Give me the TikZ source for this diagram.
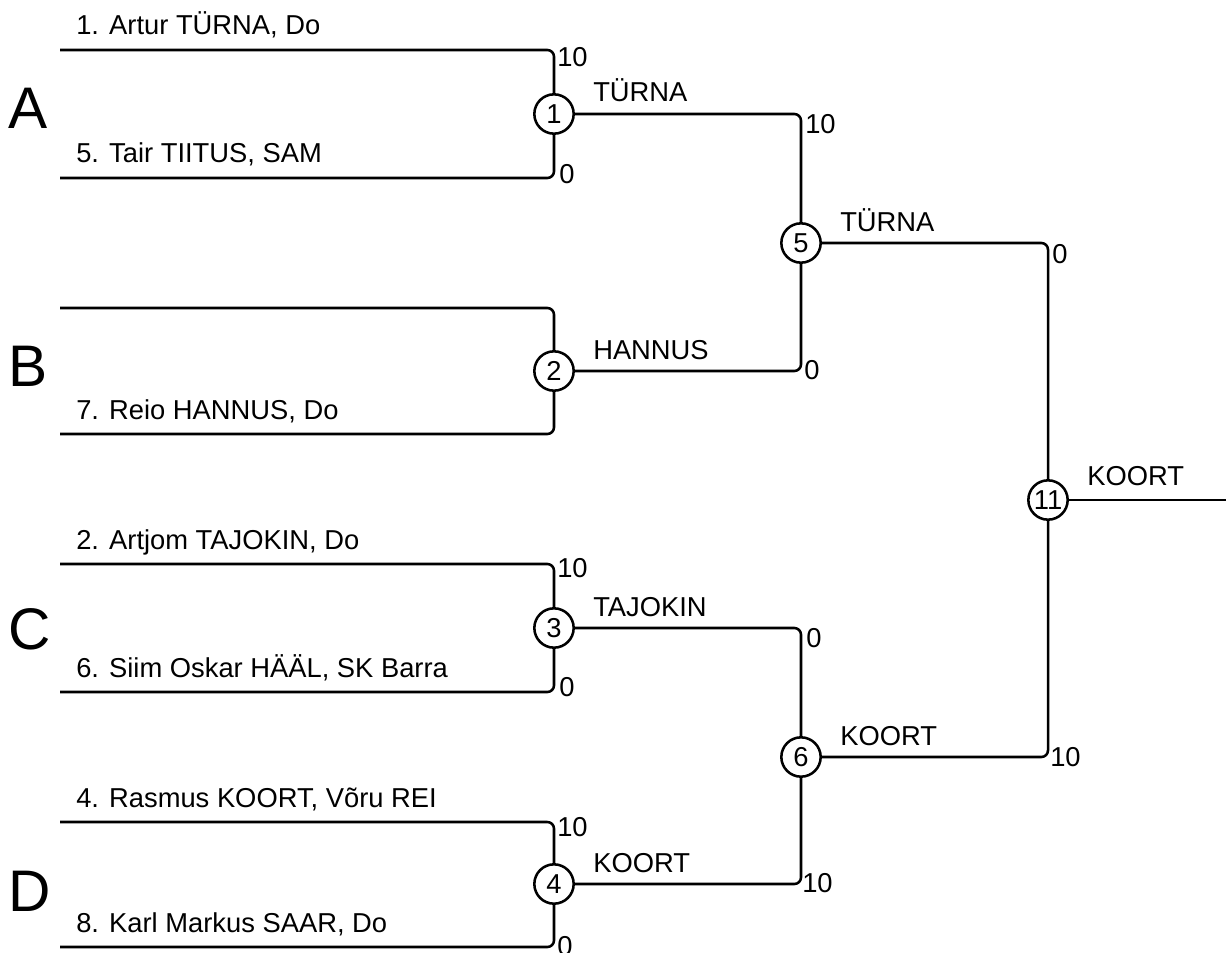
\documentclass[tikz,border=0pt]{standalone}
\usepackage{fontspec}
\setmainfont{Liberation Sans}
\usetikzlibrary{positioning,calc}

\begin{document}
\begin{tikzpicture}[
  x=0.75pt, y=-0.75pt,
  font=\fontsize{20.5}{24}\selectfont,
  wire/.style={line width=1.9pt, rounded corners=5pt},
  match/.style={circle, draw, line width=1.9pt, minimum size=29.5pt, inner sep=0pt},
  player/.style={anchor=base west, inner sep=0pt},
  winner/.style={anchor=base west, inner sep=0pt},
  score/.style={anchor=west, inner sep=0pt},
  group/.style={anchor=west, inner sep=0pt, font=\fontsize{44}{50}\selectfont}
]
\useasboundingbox (0,0) rectangle (1226,952);

% Match circles
\node[match] (m1) at (554,114) {1};
\node[match] (m2) at (554,371) {2};
\node[match] (m3) at (554,628) {3};
\node[match] (m4) at (554,884) {4};
\node[match] (m5) at (801,243) {5};
\node[match] (m6) at (801,757) {6};
\node[match] (m11) at (1048,500) {11};

% Free ends of the first-round lines
\coordinate (a1) at (60,50);
\coordinate (b1) at (60,178);
\coordinate (a2) at (60,308);
\coordinate (b2) at (60,434);
\coordinate (a3) at (60,564);
\coordinate (b3) at (60,692);
\coordinate (a4) at (60,822);
\coordinate (b4) at (60,947);
\coordinate (fin) at (1226,500);

% Bracket lines
\draw[wire] (a1) -| (m1);
\draw[wire] (b1) -| (m1);
\draw[wire] (a2) -| (m2);
\draw[wire] (b2) -| (m2);
\draw[wire] (a3) -| (m3);
\draw[wire] (b3) -| (m3);
\draw[wire] (a4) -| (m4);
\draw[wire] (b4) -| (m4);
\draw[wire] (m1) -| (m5);
\draw[wire] (m2) -| (m5);
\draw[wire] (m3) -| (m6);
\draw[wire] (m4) -| (m6);
\draw[wire] (m5) -| (m11);
\draw[wire] (m6) -| (m11);
\draw[wire] (m11) -- (fin);

% Group letters
\node[group] (gA) at (8,108) {A};
\node[group] (gB) at (8,366) {B};
\node[group] (gC) at (8,629) {C};
\node[group] (gD) at (8,891) {D};

% Players
\node[player] (p1) at (76,35) {1. Artur TÜRNA, Do};
\node[player] (p5) at (76,163) {5. Tair TIITUS, SAM};
\node[player] (p7) at (76,419) {7. Reio HANNUS, Do};
\node[player] (p2) at (76,549) {2. Artjom TAJOKIN, Do};
\node[player] (p6) at (76,677) {6. Siim Oskar HÄÄL, SK Barra};
\node[player] (p4) at (76,807) {4. Rasmus KOORT, Võru REI};
\node[player] (p8) at (76,932) {8. Karl Markus SAAR, Do};

% Winners
\node[winner] (w1) at (593,102) {TÜRNA};
\node[winner] (w2) at (593,359) {HANNUS};
\node[winner] (w3) at (593,616) {TAJOKIN};
\node[winner] (w4) at (593,872) {KOORT};
\node[winner] (w5) at (840,231) {TÜRNA};
\node[winner] (w6) at (840,745) {KOORT};
\node[winner] (w11) at (1087,485) {KOORT};

% Scores
\node[score] (s1a) at (557,57) {10};
\node[score] (s1b) at (559,174) {0};
\node[score] (s3a) at (557,568) {10};
\node[score] (s3b) at (559,687) {0};
\node[score] (s4a) at (557,827) {10};
\node[score] (s4b) at (557,946) {0};
\node[score] (s5a) at (805,124) {10};
\node[score] (s5b) at (804,370) {0};
\node[score] (s6a) at (806,638) {0};
\node[score] (s6b) at (802,883) {10};
\node[score] (s11a) at (1052,254) {0};
\node[score] (s11b) at (1050,757) {10};

\end{tikzpicture}
\end{document}
